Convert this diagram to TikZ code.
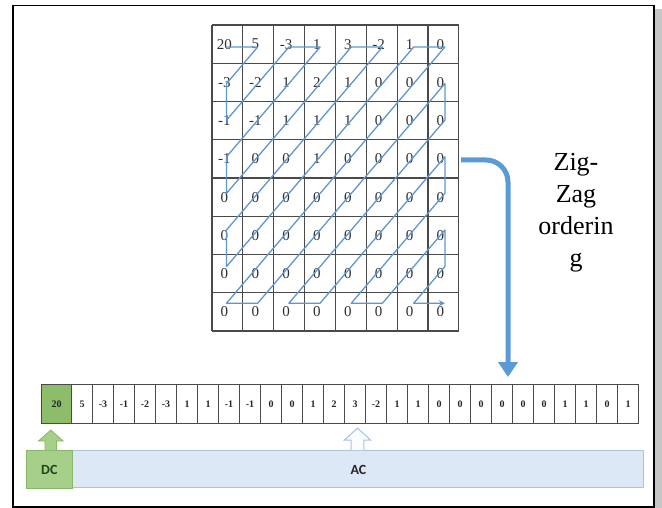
\documentclass[tikz,border=0pt]{standalone}
\usepackage{fontspec}
\setmainfont{Liberation Serif}
\newfontfamily\calfont{Carlito}
\usetikzlibrary{arrows.meta}
\definecolor{zzblue}{HTML}{5E96D0}
\definecolor{bigblue}{HTML}{5B9BD5}
\definecolor{gridgray}{HTML}{4A4A4A}
\definecolor{numgray}{HTML}{2E2E2E}
\definecolor{acfill}{HTML}{DCE8F5}
\definecolor{acdraw}{HTML}{A9C3E0}
\definecolor{dcfill}{HTML}{A6CF8A}
\definecolor{dcdraw}{HTML}{86B766}
\definecolor{dctext}{HTML}{24451A}
\definecolor{cellgreen}{HTML}{8DBD6B}
\tikzset{
  gridline/.style={draw=gridgray, line width=1.1pt},
  num/.style={text=numgray, font=\fontsize{15}{15}\selectfont, inner sep=0pt},
  bcell/.style={draw=gridgray, line width=0.8pt, minimum height=39pt, inner sep=0pt,
     font=\fontsize{10}{10}\selectfont\bfseries, text=black!85},
  zz/.style={draw=zzblue, line width=1.3pt, line join=round},
  bigarrow/.style={draw=bigblue, line width=5pt, rounded corners=22pt,
     -{Triangle[width=19pt,length=15pt]}},
  zigtext/.style={align=center, font=\fontsize{26}{32}\selectfont, inner sep=0pt},
  labeltext/.style={font=\calfont\fontsize{14}{14}\selectfont\bfseries, inner sep=0pt},
}
\begin{document}
\begin{tikzpicture}[x=1pt,y=-1pt]
\useasboundingbox (0,0) rectangle (662,508);
% frame and shadow
\fill[gray!45] (655,9) rectangle (662,508);
\draw[black, line width=1.6pt] (12.7,5.7) rectangle (654,507);

% 8x8 grid
\foreach \i in {0,...,8}{
  \draw[gridline] ({212+30.85*\i},25) -- ({212+30.85*\i},331);
  \draw[gridline] (212,{25+38.25*\i}) -- (458.8,{25+38.25*\i});
}
\foreach \r/\vals in {0/{20,5,-3,1,3,-2,1,0},1/{-3,-2,1,2,1,0,0,0},2/{-1,-1,1,1,1,0,0,0},3/{-1,0,0,1,0,0,0,0},4/{0,0,0,0,0,0,0,0},5/{0,0,0,0,0,0,0,0},6/{0,0,0,0,0,0,0,0},7/{0,0,0,0,0,0,0,0}}{
  \foreach \v [count=\c from 0] in \vals {
    \node[num] (g-\r-\c) at ({212+30.85*(\c+0.5)-3},{25+38.25*(\r+0.5)}) {\v};
    \coordinate (z-\r-\c) at ({226.5+31.2*\c},{47+36.6*\r});
  }
}
% zig-zag path
\draw[zz, -{Stealth[length=6pt,width=6pt]}]
  (z-0-0) -- (z-0-1) -- (z-1-0) -- (z-2-0) -- (z-0-2) -- (z-0-3) -- (z-3-0) -- (z-4-0)
  -- (z-0-4) -- (z-0-5) -- (z-5-0) -- (z-6-0) -- (z-0-6) -- (z-0-7) -- (z-7-0) -- (z-7-1)
  -- (z-1-7) -- (z-2-7) -- (z-7-2) -- (z-7-3) -- (z-3-7) -- (z-4-7) -- (z-7-4) -- (z-7-5)
  -- (z-5-7) -- (z-6-7) -- (z-7-6) -- (z-7-7);

% bottom row
\node[bcell, fill=cellgreen, minimum width=30pt] (b-0) at (56.5,404) {20};
\foreach \v [count=\i] in {5,-3,-1,-2,-3,1,1,-1,-1,0,0,1,2,3,-2,1,1,0,0,0,0,0,0,1,1,0,1}{
  \node[bcell, minimum width=21.04pt] (b-\i) at ({71.5+21.0*(\i-0.5)},404) {\v};
}

% big arrow
\coordinate (bstart) at (461,160);
\coordinate (bend) at (508,377);
\draw[bigarrow] (bstart) -| (bend);

\node[zigtext, anchor=north] (zig) at (576,153) {Zig-\\Zag\\orderin\\g};

% AC / DC bar
\draw[fill=acfill, draw=acdraw, line width=1pt] (26,450) rectangle (643,487);
\draw[fill=dcfill, draw=dcdraw, line width=0.8pt] (26,450) rectangle (72.7,488);
\node[labeltext, text=dctext] (dc) at (49.3,470) {DC};
\node[labeltext, text=black!85] (ac) at (358.5,470) {AC};
% block arrows
\draw[fill=dcfill, draw=dcdraw, line width=0.8pt]
  (45,450) -- (45,441) -- (38.5,441) -- (50.8,430) -- (63.1,441) -- (56.6,441) -- (56.6,450);
\draw[fill=white!85!acfill, draw=acdraw, line width=1pt]
  (351.2,450) -- (351.2,440) -- (344.5,440) -- (357.5,428) -- (370.5,440) -- (363.8,440) -- (363.8,450);
\end{tikzpicture}
\end{document}
